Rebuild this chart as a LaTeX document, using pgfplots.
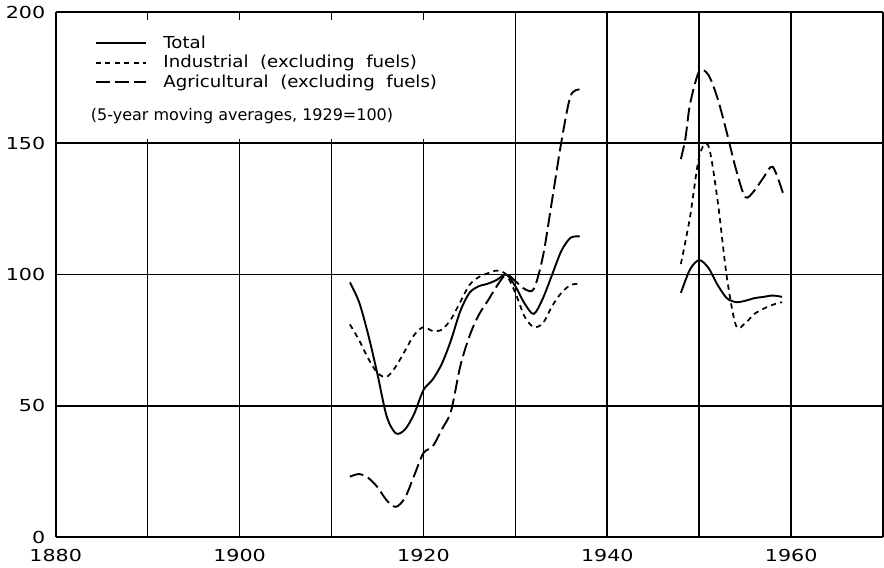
\documentclass[border=0pt]{standalone}
\usepackage{fontspec}
\setmainfont{DejaVu Sans}
\newfontfamily\tickfont[FakeStretch=1.25]{DejaVu Sans}
\newfontfamily\legfont[FakeStretch=1.1]{DejaVu Sans}
\usepackage{pgfplots}
\pgfplotsset{compat=1.18}

\begin{document}
\begin{tikzpicture}
\begin{axis}[
    width=476pt, height=302pt, scale only axis,
    xmin=1880, xmax=1970, ymin=0, ymax=200,
    axis y line*=left,
    xtick={1880,1900,...,1960},
    minor xtick={1890,1910,...,1970},
    ytick={0,50,...,200},
    grid=both,
    major grid style={black, line width=1pt},
    minor grid style={black, line width=1pt},
    major tick length=0pt, minor tick length=0pt,
    axis line style={black, line width=1pt},
    tick label style={font=\tickfont\fontsize{9.5}{11}\selectfont},
    x tick label style={yshift=-3.5pt},
    y tick label style={xshift=-2.5pt},
    /pgf/number format/assume math mode=true,
    /pgf/number format/1000 sep={},
    legend style={at={(axis cs:1884.2,192.5)}, anchor=north west, draw=none, fill=none,
        font=\legfont\fontsize{9.5}{11}\selectfont, row sep=-1.5pt, inner sep=0pt,
        cells={anchor=west}},
    legend image code/.code={\draw[#1] (0pt,0pt) -- (29pt,0pt);
        \path[draw=none] (0pt,0pt) -- (37pt,0pt);},
]
% blank area behind the legend
\fill[white] (axis cs:1880.4,151.5) rectangle (axis cs:1929.6,197);

\addplot[black, line width=1.1pt, smooth, tension=0.5] coordinates {
(1912,97) (1913,89.5) (1914,77) (1915,62) (1916,46) (1917,39.5) (1918,41) (1919,47)
(1920,56) (1921,60) (1922,66) (1923,75) (1924,86) (1925,93) (1926,95.5) (1927,96.5)
(1928,98) (1929,100) (1930,95.5) (1931,89) (1932,85) (1933,91) (1934,100) (1935,109)
(1936,114) (1937,114.5)};
\addlegendentry{Total}

\addplot[black, line width=1pt, dash pattern=on 3pt off 2.5pt, smooth, tension=0.5] coordinates {
(1912,81) (1913,75) (1914,68) (1915,62.5) (1916,61) (1917,65) (1918,71) (1919,77)
(1920,80) (1921,78.5) (1922,79) (1923,83) (1924,89.5) (1925,96) (1926,99) (1927,100.5)
(1928,101.5) (1929,100) (1930,93) (1931,84) (1932,80) (1933,81.5) (1934,88) (1935,93)
(1936,96) (1937,96.5)};
\addlegendentry{Industrial~~(excluding~~fuels)}

\addplot[black, line width=1.1pt, dash pattern=on 8pt off 3pt, smooth, tension=0.5] coordinates {
(1912,23) (1913,24) (1914,22.5) (1915,19) (1916,14) (1917,11.5) (1918,15) (1919,23.5)
(1920,32) (1921,34.5) (1922,41) (1923,48) (1924,65) (1925,76.5) (1926,84.5) (1927,90)
(1928,95.7) (1929,100) (1930,97.5) (1931,94.5) (1932,94.5) (1933,107) (1934,128.5)
(1935,150.5) (1936,168) (1937,170.5)};
\addlegendentry{Agricultural~~(excluding~~fuels)}

\addplot[black, line width=1.1pt, smooth, tension=0.5, forget plot] coordinates {
(1948,93) (1949,102) (1950,105.5) (1951,102.5) (1952,96) (1953,91) (1954,89.5)
(1955,90) (1956,91) (1957,91.5) (1958,92) (1959,91.5)};

\addplot[black, line width=1pt, dash pattern=on 3pt off 2.5pt, smooth, tension=0.5, forget plot] coordinates {
(1948,104) (1949,122) (1950,145) (1951,149) (1952,128) (1953,99) (1954,80.5)
(1955,81.5) (1956,85) (1957,87) (1958,88.5) (1959,89.5)};

\addplot[black, line width=1.1pt, dash pattern=on 8pt off 3pt, smooth, tension=0.5, forget plot] coordinates {
(1948,144) (1948.5,152) (1949,165) (1950,177.5) (1951,176) (1952,167) (1953,154)
(1954,140) (1955,129.5) (1956,132) (1957,137) (1958,141) (1959.2,130)};

\node[anchor=west, font=\fontsize{9.2}{11}\selectfont, inner sep=0pt]
    at (axis cs:1883.8,160.5) {(5-year moving averages, 1929=100)};
\end{axis}
\end{tikzpicture}
\end{document}
